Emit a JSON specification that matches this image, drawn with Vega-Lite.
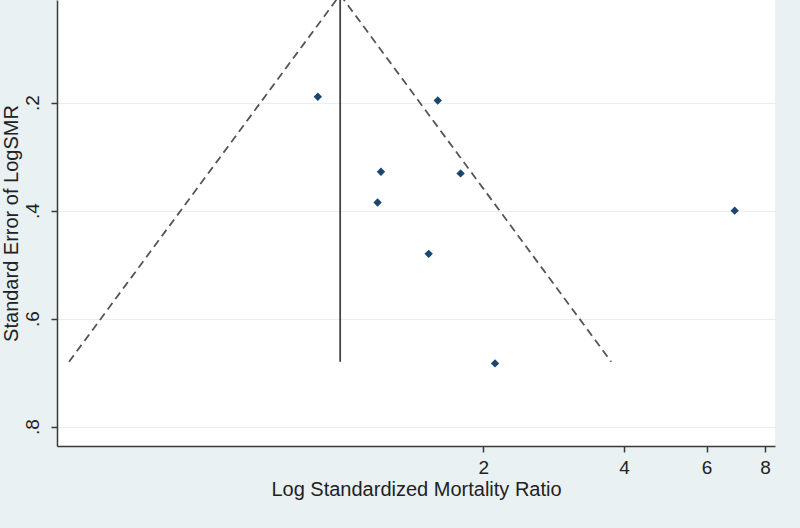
{
  "$schema": "https://vega.github.io/schema/vega-lite/v6.json",
  "width": 718,
  "height": 446,
  "autosize": "none",
  "padding": {"left": 57, "top": 0, "right": 25, "bottom": 82},
  "background": "#e9f1f3",
  "view": {"fill": "white", "stroke": null},
  "config": {
    "font": "Liberation Sans",
    "axis": {
      "labelFont": "Liberation Sans",
      "titleFont": "Liberation Sans",
      "labelColor": "#222222",
      "titleColor": "#222222",
      "labelFontSize": 19,
      "titleFontSize": 20,
      "titleFontWeight": "normal",
      "domainColor": "#3a3a3a",
      "domainWidth": 1.5,
      "tickColor": "#3a3a3a",
      "tickWidth": 1.5,
      "tickSize": 6
    }
  },
  "datasets": {
    "studies": [
      {"smr": 0.887, "se": 0.189},
      {"smr": 1.60, "se": 0.196},
      {"smr": 1.21, "se": 0.328},
      {"smr": 1.79, "se": 0.331},
      {"smr": 1.19, "se": 0.385},
      {"smr": 1.53, "se": 0.480},
      {"smr": 2.12, "se": 0.683},
      {"smr": 6.89, "se": 0.400}
    ],
    "funnel": [
      {"side": "lower", "smr": 0.99, "se": 0.0},
      {"side": "lower", "smr": 0.261, "se": 0.68},
      {"side": "upper", "smr": 0.99, "se": 0.0},
      {"side": "upper", "smr": 3.754, "se": 0.68}
    ],
    "pooled": [
      {"smr": 0.99, "se": 0.0},
      {"smr": 0.99, "se": 0.68}
    ]
  },
  "layer": [
    {
      "data": {"name": "funnel"},
      "mark": {"type": "line", "clip": true, "color": "#555555", "strokeWidth": 1.8, "strokeDash": [8, 5]},
      "encoding": {
        "x": {
          "field": "smr", "type": "quantitative",
          "scale": {"type": "log", "domain": [0.246, 8.4], "nice": false},
          "axis": {
            "values": [2, 4, 6, 8],
            "grid": false,
            "format": "d",
            "title": "Log Standardized Mortality Ratio",
            "labelPadding": 6,
            "titlePadding": 2
          }
        },
        "y": {
          "field": "se", "type": "quantitative",
          "scale": {"domain": [0.0098, 0.836], "reverse": true, "nice": false, "zero": false},
          "axis": {
            "values": [0.2, 0.4, 0.6, 0.8],
            "labelExpr": "replace(format(datum.value, '.1f'), /^0/, '')",
            "labelAngle": -90,
            "labelAlign": "center",
            "labelBaseline": "bottom",
            "labelPadding": 9,
            "grid": true,
            "gridColor": "#e6eff2",
            "gridWidth": 1.2,
            "title": "Standard Error of LogSMR",
            "titlePadding": 2
          }
        },
        "detail": {"field": "side"}
      }
    },
    {
      "data": {"name": "pooled"},
      "mark": {"type": "line", "clip": true, "color": "#444444", "strokeWidth": 1.8},
      "encoding": {
        "x": {"field": "smr", "type": "quantitative"},
        "y": {"field": "se", "type": "quantitative"}
      }
    },
    {
      "data": {"name": "studies"},
      "mark": {"type": "point", "shape": "diamond", "filled": true, "size": 70, "color": "#1a476f", "opacity": 1},
      "encoding": {
        "x": {"field": "smr", "type": "quantitative"},
        "y": {"field": "se", "type": "quantitative"}
      }
    }
  ]
}
